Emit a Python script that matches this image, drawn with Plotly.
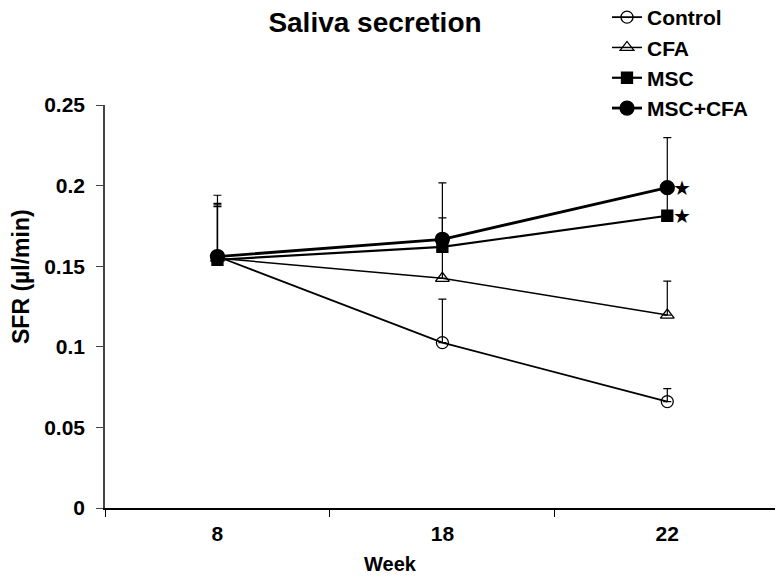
import plotly.graph_objects as go

weeks = ["8", "18", "22"]
control = [0.156, 0.1026, 0.066]
control_err = [0.033, 0.027, 0.008]
cfa = [0.155, 0.1425, 0.1197]
cfa_err = [0.033, 0.02, 0.021]
msc = [0.154, 0.162, 0.1813]
msc_err = [0.033, 0.018, 0.017]
msc_cfa = [0.156, 0.1667, 0.1987]
msc_cfa_err = [0.038, 0.035, 0.031]
star_index = 2  # position of week "22" on the category axis
star_values = [0.1987, 0.1813]

FONT = "Liberation Sans, Arial, sans-serif"

# figure is drawn 8px in from the page corner (default body margin)
W, H = 775, 570
L, R, T, B = 97, 1, 97, 70
PW, PH = W - L - R, H - T - B


def px(xf):
    return (xf - L) / PW


def py(yf):
    return (H - B - yf) / PH


series = [
    ("Control", control, control_err, "circle-open", 12, 1.8),
    ("CFA", cfa, cfa_err, "triangle-up-open", 12, 1.5),
    ("MSC", msc, msc_err, "square", 11, 2.2),
    ("MSC+CFA", msc_cfa, msc_cfa_err, "circle", 14, 2.8),
]

fig = go.Figure()
for name, vals, err, sym, size, lw in series:
    fig.add_trace(go.Scatter(
        x=weeks, y=vals, name=name, mode="lines+markers",
        line=dict(color="black", width=lw),
        marker=dict(symbol=sym, size=size, color="black",
                    line=dict(color="black", width=1.3)),
        error_y=dict(type="data", array=err, symmetric=False,
                     arrayminus=[0] * len(err), color="black",
                     thickness=1.2, width=4),
    ))

for v in star_values:
    fig.add_annotation(x=star_index, y=v, text="★", showarrow=False,
                       xshift=15, font=dict(size=20, color="black", family="DejaVu Sans"))

fig.add_annotation(text="SFR (µl/min)", xref="paper", yref="paper",
                   x=px(13), y=py(269), xanchor="center", yanchor="middle",
                   textangle=-90, showarrow=False,
                   font=dict(size=23, family=FONT, color="black", weight="bold"))
fig.add_annotation(text="Week", xref="paper", yref="paper",
                   x=px(382), y=py(556), xanchor="center", yanchor="middle",
                   showarrow=False,
                   font=dict(size=20, family=FONT, color="black", weight="bold"))

fig.update_layout(
    width=W, height=H,
    margin=dict(l=L, r=R, t=T, b=B, autoexpand=False),
    paper_bgcolor="white", plot_bgcolor="white",
    font=dict(family=FONT, color="black"),
    title=dict(text="Saliva secretion", xref="container", yref="container",
               x=367 / W, y=1 - 14 / H, xanchor="center", yanchor="middle",
               font=dict(size=28, family=FONT, color="black", weight="bold")),
    showlegend=True,
    legend=dict(x=px(599), y=py(55), xanchor="left", yanchor="middle",
                bgcolor="rgba(0,0,0,0)", itemwidth=30,
                font=dict(size=21, family=FONT, color="black", weight="bold"),
                tracegroupgap=0),
    xaxis=dict(type="category", range=[-0.5, 2.51], showgrid=False, zeroline=False,
               showline=True, linecolor="black", linewidth=1.5,
               ticks="outside", tickson="boundaries", ticklen=7, tickcolor="black",
               tickfont=dict(size=21, family=FONT, color="black", weight="bold"),
               ticklabelstandoff=6, tickangle=0),
    yaxis=dict(range=[0, 0.25], tickvals=[0, 0.05, 0.1, 0.15, 0.2, 0.25],
               ticktext=["0", "0.05", "0.1", "0.15", "0.2", "0.25"],
               showgrid=False, zeroline=False, showline=True, linecolor="#444",
               linewidth=1.5, ticks="outside", ticklen=7, tickcolor="#444",
               tickfont=dict(size=21, family=FONT, color="black", weight="bold"),
               ticklabelstandoff=7),
)

fig.write_html("out.html")
